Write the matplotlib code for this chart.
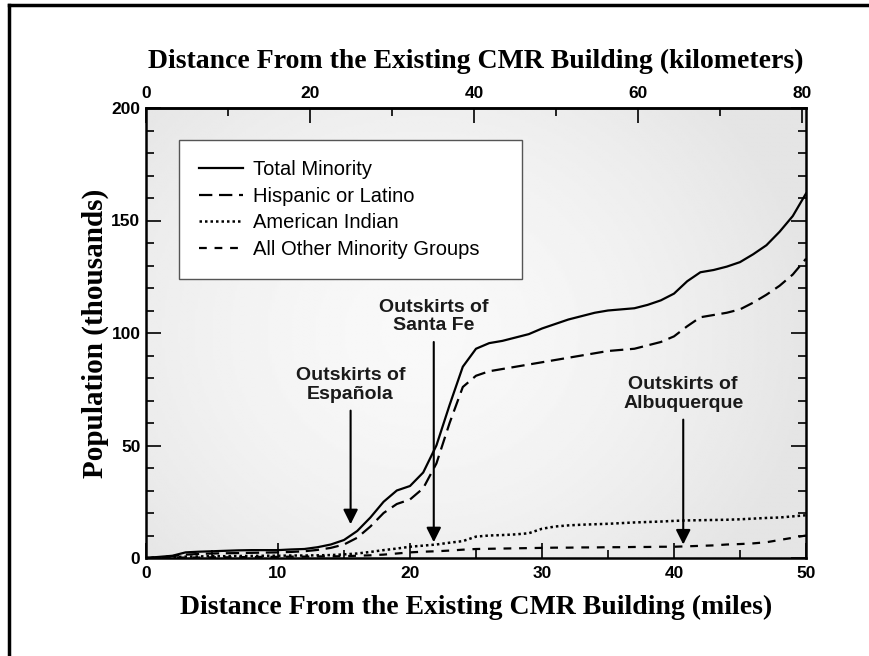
import numpy as np
import matplotlib
matplotlib.use("Agg")
import matplotlib.pyplot as plt
from matplotlib.lines import Line2D
from matplotlib.ticker import MultipleLocator, FixedLocator

# cumulative population (thousands) by distance (miles)
miles = [0, 1, 2, 3, 4, 5, 6, 7, 8, 9, 10, 11, 12, 13, 14, 15, 16, 17, 18, 19,
         20, 21, 22, 23, 24, 25, 26, 27, 28, 29, 30, 31, 32, 33, 34, 35, 36, 37,
         38, 39, 40, 41, 42, 43, 44, 45, 46, 47, 48, 49, 50]
total = [0, 0.5, 1, 2.5, 2.8, 3, 3.2, 3.4, 3.5, 3.5, 3.5, 3.8, 4, 4.8, 6, 8, 12,
         18, 25, 30, 32, 38, 50, 68, 85, 93, 95.5, 96.5, 98, 99.5, 102, 104, 106,
         107.5, 109, 110, 110.5, 111, 112.5, 114.5, 117.5, 123, 127, 128, 129.5,
         131.5, 135, 139, 145, 152, 162]
hispanic = [0, 0.3, 0.8, 1.5, 1.8, 2, 2.1, 2.2, 2.3, 2.4, 2.5, 2.7, 3, 3.6, 4.5,
            6, 9, 14, 20, 24, 26, 31, 42, 60, 76, 81, 83, 84, 85, 86, 87, 88, 89,
            90, 91, 92, 92.5, 93, 94.5, 96, 98.5, 103, 107, 108, 109, 110.5, 113.5,
            117, 121, 126, 133]
indian = [0, 0.2, 0.4, 0.6, 0.7, 0.8, 0.8, 0.9, 0.9, 1.0, 1.0, 1.1, 1.1, 1.2, 1.3,
          1.6, 2, 2.7, 3.5, 4.2, 5, 5.5, 6, 6.8, 7.5, 9.5, 10, 10.2, 10.5, 11, 13,
          14, 14.5, 14.8, 15, 15.2, 15.5, 15.8, 16, 16.2, 16.5, 16.7, 16.8, 16.9,
          17, 17.2, 17.5, 17.8, 18, 18.5, 19]
other = [0, 0.1, 0.1, 0.2, 0.2, 0.3, 0.3, 0.4, 0.4, 0.5, 0.5, 0.6, 0.6, 0.7, 0.7,
         0.8, 1.0, 1.2, 1.5, 2, 2.5, 2.8, 3, 3.3, 3.7, 4, 4.1, 4.2, 4.3, 4.4, 4.5,
         4.6, 4.6, 4.7, 4.7, 4.8, 4.8, 4.9, 4.9, 5, 5, 5.2, 5.4, 5.6, 6, 6.2, 6.5,
         7, 8, 9, 10]

notes = ["Outskirts of\nEspañola", "Outskirts of\nSanta Fe", "Outskirts of\nAlbuquerque"]
note_x = [15.5, 21.8, 40.7]
note_tip = [15, 7, 6]
note_text_y = [69, 99.5, 65]

km_ticks = [0, 20, 40, 60, 80]
KM_PER_MILE = 1.609344

fig = plt.figure(figsize=(8.7, 6.56), dpi=100)
ax = fig.add_axes([146 / 870, 1 - 558 / 656, 660 / 870, 450 / 656])

# soft grey backdrop, lightest a bit left of centre
gx, gy = np.meshgrid(np.linspace(0, 1, 300), np.linspace(0, 1, 200))
r = np.sqrt(((gx - 0.42) / 1.0) ** 2 + ((gy - 0.5) / 1.3) ** 2)
shade = 0.975 - 0.08 * np.clip(r / 0.6, 0, 1) ** 1.6
ax.imshow(shade, extent=[0, 50, 0, 200], aspect="auto", cmap="gray",
          vmin=0, vmax=1, zorder=0, origin="lower", interpolation="bilinear")

ax.plot(miles, total, color="black", lw=1.6, label="Total Minority", zorder=3)
ax.plot(miles, hispanic, color="black", lw=1.6, dashes=(6, 3),
        label="Hispanic or Latino", zorder=3)
ax.plot(miles, indian, color="black", lw=1.8, dashes=(1, 1.2),
        label="American Indian", zorder=3)
ax.plot(miles, other, color="black", lw=1.6, dashes=(3.5, 3.5),
        label="All Other Minority Groups", zorder=3)

for txt, x, tip, ty in zip(notes, note_x, note_tip, note_text_y):
    ax.text(x, ty, txt, ha="center", va="bottom", fontsize=14,
            fontweight="bold", family="Liberation Sans", color="#1a1a1a",
            linespacing=1.1, zorder=4)
    ax.annotate("", xy=(x, tip), xytext=(x, ty - 3.5),
                arrowprops=dict(arrowstyle="-|>", color="black", lw=1.5,
                                mutation_scale=22, shrinkA=0, shrinkB=0),
                zorder=4)

ax.set_xlim(0, 50)
ax.set_ylim(0, 200)
ax.xaxis.set_major_locator(MultipleLocator(10))
ax.xaxis.set_minor_locator(MultipleLocator(5))
ax.yaxis.set_major_locator(MultipleLocator(50))
ax.yaxis.set_minor_locator(MultipleLocator(10))
ax.tick_params(which="both", direction="in", right=True, color="black")
ax.tick_params(which="major", length=11, width=1.2)
ax.tick_params(which="minor", length=6, width=1.2)
ax.tick_params(axis="x", labelsize=12.5, pad=6)
ax.tick_params(axis="y", labelsize=12.5, pad=4)
for lab in ax.get_xticklabels() + ax.get_yticklabels():
    lab.set_fontweight("bold")
    lab.set_family("Liberation Sans")
for s in ax.spines.values():
    s.set_linewidth(1.8)

# kilometre scale along the top
top = ax.secondary_xaxis("top", functions=(lambda m: m * KM_PER_MILE,
                                           lambda k: k / KM_PER_MILE))
top.xaxis.set_major_locator(FixedLocator(km_ticks))
top.xaxis.set_minor_locator(FixedLocator([10, 30, 50, 70]))
top.tick_params(which="both", direction="in")
top.tick_params(which="major", length=11, width=1.2, labelsize=12.5, pad=5)
top.tick_params(which="minor", length=6, width=1.2)
for lab in top.get_xticklabels():
    lab.set_fontweight("bold")
    lab.set_family("Liberation Sans")
top.spines["top"].set_linewidth(1.8)

title_font = dict(family="Liberation Serif", fontweight="bold", fontsize=20)
ax.set_xlabel("Distance From the Existing CMR Building (miles)", labelpad=10,
              **title_font)
ax.set_ylabel("Population (thousands)", labelpad=2,
              family="Liberation Serif", fontweight="bold", fontsize=21)
top.set_xlabel("Distance From the Existing CMR Building (kilometers)",
               labelpad=13, **title_font)

# legend box stretched to a fixed width
leg = ax.legend(loc="upper left", bbox_to_anchor=(0.05, 0.4, 0.52, 0.529),
                mode="expand", frameon=True, fancybox=False, handlelength=2.2,
                handletextpad=0.45, borderpad=1.0, labelspacing=0.38,
                borderaxespad=0,
                prop=dict(family="Liberation Sans", size=14.5))
leg.get_frame().set_edgecolor("#555555")
leg.get_frame().set_linewidth(1.0)
leg.get_frame().set_facecolor("white")
leg.get_frame().set_alpha(1)

# page frame on the left and top edges
fig.add_artist(Line2D([9 / 870, 9 / 870], [0, 1 - 5 / 656], color="black",
                      lw=2.5, transform=fig.transFigure))
fig.add_artist(Line2D([9 / 870, 1], [1 - 5 / 656, 1 - 5 / 656], color="black",
                      lw=2.5, transform=fig.transFigure))

fig.savefig("out.png", dpi=100)
